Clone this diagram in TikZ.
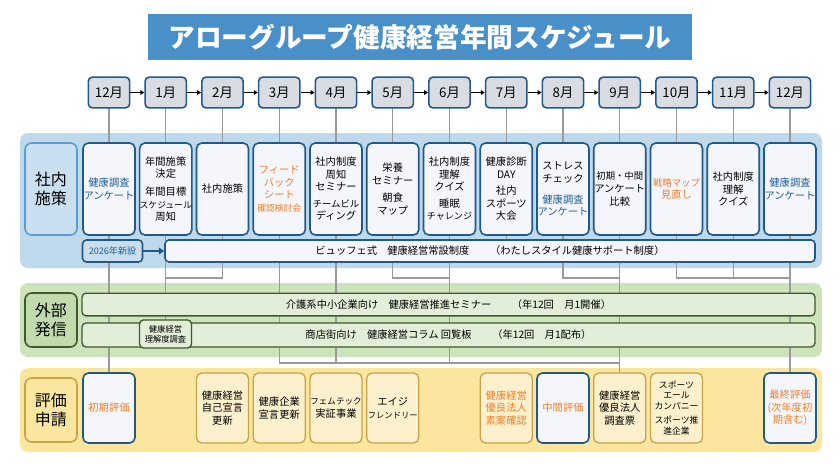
\documentclass[tikz,border=0pt]{standalone}
\usepackage{fontspec}
\setmainfont{Noto Sans CJK JP}
\usetikzlibrary{arrows.meta}
\definecolor{dblue}{HTML}{1F5A8A}
\definecolor{tblue}{HTML}{1F5F95}
\definecolor{orng}{HTML}{F07F2A}
\definecolor{bpanel}{HTML}{BFD9EC}
\definecolor{blab}{HTML}{C9DFF0}
\definecolor{blabd}{HTML}{5A9BD5}
\definecolor{bfill}{HTML}{F4F6FB}
\definecolor{hfill}{HTML}{D9DDE3}
\definecolor{gpanel}{HTML}{CDE3BC}
\definecolor{glab}{HTML}{C2DBAE}
\definecolor{gfill}{HTML}{E2EED8}
\definecolor{gdraw}{HTML}{3D5A2A}
\definecolor{ypanel}{HTML}{FBE6A0}
\definecolor{yfill}{HTML}{FDF0CC}
\definecolor{ydraw}{HTML}{C9A34A}
\definecolor{ttl}{HTML}{4A90C8}
\definecolor{ln}{HTML}{9A9A9A}
\tikzset{
 panel/.style={rounded corners=6pt,draw=none},
 month/.style={draw=dblue,line width=1.2pt,fill=hfill,rounded corners=3pt,minimum width=31pt,minimum height=23pt,inner sep=0pt,font=\fontsize{10}{11}\selectfont},
 act/.style={draw=dblue,line width=1.2pt,fill=bfill,rounded corners=4pt,minimum width=39pt,minimum height=69pt,inner sep=0pt,align=center,font=\fontsize{7.7}{9.4}\selectfont},
 ybox/.style={draw=ydraw,line width=1pt,fill=yfill,rounded corners=4pt,minimum width=39pt,minimum height=52.5pt,inner sep=0pt,align=center,font=\fontsize{7.7}{9.4}\selectfont},
 yeval/.style={ybox,draw=dblue,line width=1.2pt,fill=bfill},
 bar/.style={draw=gdraw,line width=1pt,fill=gfill,rounded corners=3pt,minimum height=17pt,inner sep=0pt,font=\fontsize{7.7}{9}\selectfont},
 conn/.style={draw=ln,line width=1.1pt},
 lab/.style={rounded corners=5pt,line width=1.2pt,inner sep=0pt,align=center,font=\fontsize{12}{14}\selectfont},
}
\begin{document}
\begin{tikzpicture}[x=0.75pt,y=-0.75pt]
\useasboundingbox (0,0) rectangle (840,472);
\fill[white] (0,0) rectangle (840,472);
% title
\node[fill=ttl,minimum width=408pt,minimum height=34.5pt,text=white,font=\fontsize{20}{22}\selectfont\bfseries] (title) at (420,37) {アローグループ健康経営年間スケジュール};
% panels
\fill[bpanel,panel] (20,133) rectangle (822,268);
\fill[gpanel,panel] (20,283) rectangle (822,357);
\fill[ypanel,panel] (20,368) rectangle (822,452);
% column coordinates
\foreach \i in {0,...,12}{
  \pgfmathsetmacro\cx{109+56.75*\i}
  \coordinate (t\i) at (\cx,108);
  \coordinate (b\i) at (\cx,262);
  \coordinate (k\i) at (\cx,278);
  \coordinate (h\i) at (\cx,363);
  \draw[conn] (t\i) -- (\cx,240);
}
% connectors below bar
\draw[conn] (t0) -- (109,375);
\draw[conn] (b2) -- (k2) -- (k1) -- (165.75,330);
\draw[conn] (b1) -- (k1);
\draw[conn] (b5) -- (k5) -- (k6);
\draw[conn] (b6) -- (h6);
\draw[conn] (b8) -- (k8) -- (k9);
\draw[conn] (b9) -- (619.75,375);
\draw[conn] (b10) -- (k10) -- (k12);
\draw[conn] (b11) -- (k11);
\draw[conn] (b12) -- (790,375);
\draw[conn] (b3) -- (h3) -- (h9);
\draw[conn] (b4) -- (h4);
% month headers
\foreach \i/\m in {0/12月,1/1月,2/2月,3/3月,4/4月,5/5月,6/6月,7/7月,8/8月,9/9月,10/10月,11/11月,12/12月}{
  \pgfmathsetmacro\cx{109+56.75*\i}
  \node[month] (m\i) at (\cx,92.5) {\m};
}
\foreach \a/\b in {0/1,1/2,2/3,3/4,4/5,5/6,6/7,7/8,8/9,9/10,10/11,11/12}{
  \draw[-{Triangle[length=3pt,width=3.5pt]},line width=0.9pt] (m\a.east) -- (m\b.west);
}
% row labels
\node[lab,draw=blabd,fill=blab,minimum width=39pt,minimum height=69pt] (l1) at (51,189) {社内\\施策};
\node[lab,draw=gdraw,fill=glab,minimum width=39pt,minimum height=40.5pt] (l2) at (51,320) {外部\\発信};
\node[lab,draw=ydraw,fill=ypanel,minimum width=39pt,minimum height=48pt] (l3) at (51,410) {評価\\申請};
% activity boxes
\node[act] (a0) at (109,189) {\color{tblue}健康調査\\\color{tblue}アンケート};
\node[act] (a1) at (165.75,189) {年間施策\\決定\\[4pt]年間目標\\{\fontsize{6.6}{8}\selectfont スケジュール}\\周知};
\node[act] (a2) at (222.5,189) {社内施策};
\node[act] (a3) at (279.25,189) {\color{orng}フィード\\\color{orng}バック\\\color{orng}シート\\{\color{orng}\fontsize{6.6}{8}\selectfont 確認検討会}};
\node[act] (a4) at (336,189) {社内制度\\周知\\セミナー\\[3pt]{\fontsize{7}{8.5}\selectfont チームビル}\\ディング};
\node[act] (a5) at (392.75,189) {栄養\\セミナー\\[4pt]朝食\\マップ};
\node[act] (a6) at (449.5,189) {社内制度\\理解\\クイズ\\[3pt]睡眠\\{\fontsize{6.8}{8.5}\selectfont チャレンジ}};
\node[act] (a7) at (506.25,189) {健康診断\\DAY\\[3pt]社内\\スポーツ\\大会};
\node[act] (a8) at (563,189) {ストレス\\チェック\\[6pt]\color{tblue}健康調査\\\color{tblue}アンケート};
\node[act] (a9) at (619.75,189) {{\fontsize{7}{8.5}\selectfont 初期・中間}\\アンケート\\比較};
\node[act] (a10) at (676.5,189) {{\color{orng}\fontsize{7}{8.5}\selectfont 戦略マップ}\\\color{orng}見直し};
\node[act] (a11) at (733.25,189) {社内制度\\理解\\クイズ};
\node[act] (a12) at (790,189) {\color{tblue}健康調査\\\color{tblue}アンケート};
% new system
\node[draw=dblue,line width=1.2pt,fill=blab,rounded corners=3pt,minimum width=45pt,minimum height=16.5pt,inner sep=0pt,text=tblue,font=\fontsize{6.8}{8}\selectfont] (new) at (112.5,251) {2026年新設};
\node[draw=dblue,line width=1.2pt,fill=bfill,rounded corners=3pt,minimum width=487.5pt,minimum height=16.5pt,inner sep=0pt,font=\fontsize{7.7}{9}\selectfont] (buf) at (490,251) {ビュッフェ式\quad 健康経営常設制度\qquad（わたしスタイル健康サポート制度）};
\draw[-{Triangle[length=4pt,width=5pt]},draw=dblue,line width=1.3pt] (new) -- (buf);
% external bars
\node[bar,minimum width=549.75pt] (e1) at (448.5,304.5) {介護系中小企業向け\quad 健康経営推進セミナー\qquad（年12回\quad 月1開催）};
\node[bar,minimum width=549.75pt,minimum height=18pt] (e2) at (448.5,335) {商店街向け\quad 健康経営コラム 回覧板\qquad（年12回\quad 月1配布）};
\node[draw=gdraw,line width=1pt,fill=gfill,rounded corners=3pt,minimum width=39pt,minimum height=21pt,inner sep=0pt,align=center,font=\fontsize{6.2}{7.5}\selectfont] (e3) at (165.5,334) {健康経営\\理解度調査};
% evaluation boxes
\node[yeval] (y0) at (109,408) {\color{orng}初期評価};
\node[ybox] (y2) at (222.5,408) {健康経営\\自己宣言\\更新};
\node[ybox] (y3) at (279.25,408) {健康企業\\宣言更新};
\node[ybox] (y4) at (336,408) {{\fontsize{6.4}{8}\selectfont フェムテック}\\実証事業};
\node[ybox] (y5) at (392.75,408) {エイジ\\{\fontsize{6.2}{8}\selectfont フレンドリー}};
\node[ybox] (y7) at (506.25,408) {\color{orng}健康経営\\\color{orng}優良法人\\\color{orng}素案確認};
\node[yeval] (y8) at (563,408) {\color{orng}中間評価};
\node[ybox] (y9) at (619.75,408) {健康経営\\優良法人\\調査票};
\node[ybox,font=\fontsize{6.6}{7.8}\selectfont] (y10) at (676.5,408) {スポーツ\\エール\\カンパニー\\[3pt]スポーツ推\\進企業};
\node[yeval] (y12) at (790,408) {\color{orng}最終評価\\\color{orng}(次年度初\\\color{orng}期含む)};
\end{tikzpicture}
\end{document}
